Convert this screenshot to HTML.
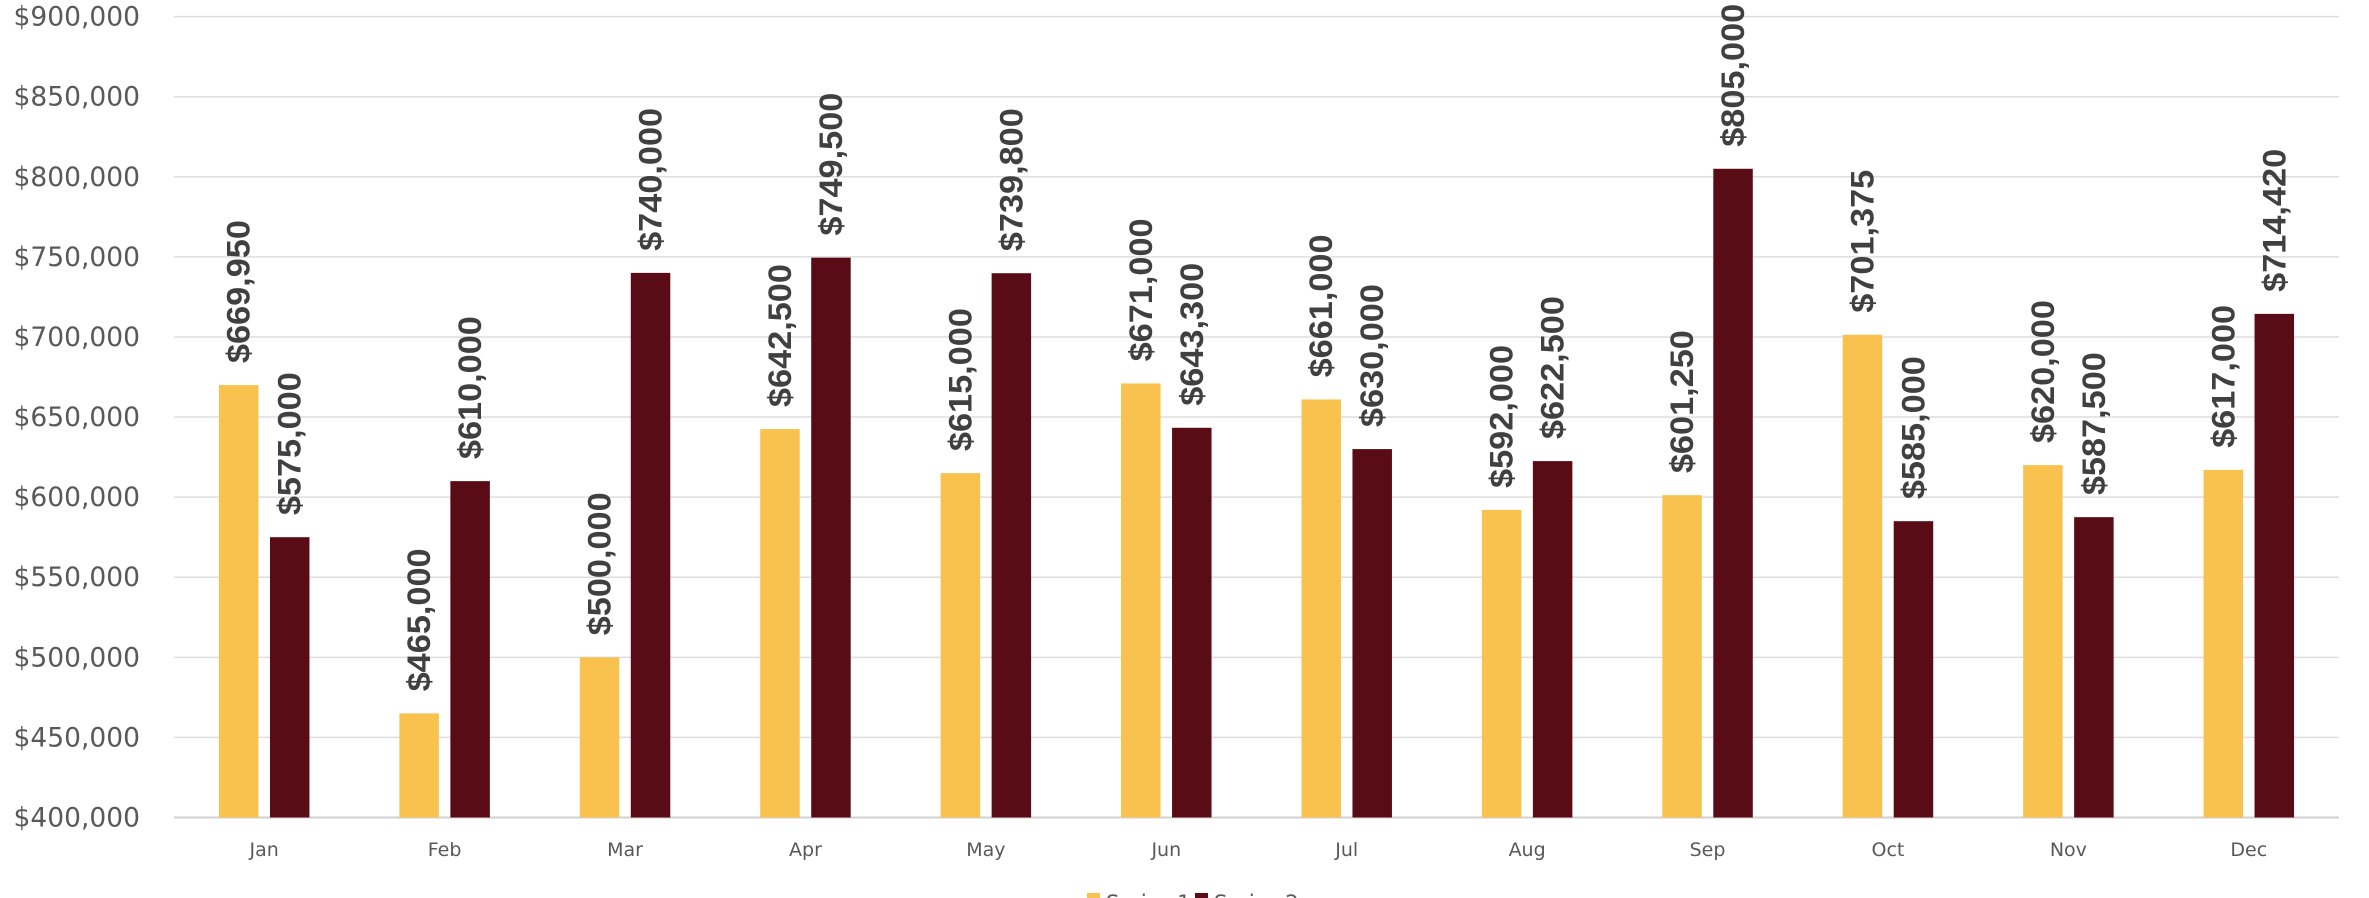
<!DOCTYPE html>
<html><head><meta charset="utf-8">
<style>
body{margin:0;background:#fff;}
svg{display:block;}
</style></head>
<body>
<svg id="chart" width="2369" height="898" xmlns="http://www.w3.org/2000/svg"></svg>
<script>
const categories=["Jan","Feb","Mar","Apr","May","Jun","Jul","Aug","Sep","Oct","Nov","Dec"];
const series1=[669950,465000,500000,642500,615000,671000,661000,592000,601250,701375,620000,617000];
const series2=[575000,610000,740000,749500,739800,643300,630000,622500,805000,585000,587500,714420];
const yTicks=[400000,450000,500000,550000,600000,650000,700000,750000,800000,850000,900000];
const seriesNames=["Series 1","Series 2"];
const colors=["#F9C24E","#5A0C16"];

const NS="http://www.w3.org/2000/svg";
const svg=document.getElementById('chart');
const L=174,R=2339,T=16.6,B=817.5,yMin=400000,yMax=900000;
const bw=(R-L)/categories.length;
function y(v){return B-(v-yMin)/(yMax-yMin)*(B-T);}
function x(i){return L+bw*(i+0.5);}
function mk(tag,attrs,parent){const e=document.createElementNS(NS,tag);for(const k in attrs)e.setAttribute(k,attrs[k]);(parent||svg).appendChild(e);return e;}
function fmt(v){return "$"+v.toLocaleString("en-US");}

yTicks.forEach(t=>{
  const g=mk('line',{x1:L,x2:R,y1:y(t),y2:y(t),stroke:t===yMin?'#d0d0d0':'#dedede','stroke-width':t===yMin?2:1.5});
  
  
  const tx=mk('text',{x:140,y:y(t)+9,'text-anchor':'end','font-family':'DejaVu Sans, sans-serif','font-size':26.5,fill:'#595959'});
  tx.textContent=fmt(t);
  
  
});

const bwid=39.5,off=25.5;
categories.forEach((c,i)=>{
  [series1,series2].forEach((s,k)=>{
    const cx=x(i)+(k===0?-off:off);
    const r=mk('rect',{x:cx-bwid/2,y:y(s[i]),width:bwid,height:B-y(s[i]),fill:colors[k]});
    
    
    const ly=y(s[i])-22;
    const t=mk('text',{x:0,y:0,transform:`translate(${cx+11},${ly}) rotate(-90)`,'font-family':'Liberation Sans Narrow, Liberation Sans, sans-serif','font-weight':'bold','font-size':32,'textLength':143,'lengthAdjust':'spacingAndGlyphs',fill:'#404040'});
    t.textContent=fmt(s[i]);
    
    
  });
  const cl=mk('text',{x:x(i),y:856,'text-anchor':'middle','font-family':'DejaVu Sans, sans-serif','font-size':19,fill:'#595959'});
  cl.textContent=c;
  
  
});

const lx=[1087,1195];
seriesNames.forEach((n,k)=>{
  const sw=mk('rect',{x:lx[k],y:893,width:13,height:13,fill:colors[k]});
  
  
  const t=mk('text',{x:lx[k]+19,y:910,'font-family':'DejaVu Sans, sans-serif','font-size':21,fill:'#595959'});
  t.textContent=n;
  
  
});
</script>
</body></html>
